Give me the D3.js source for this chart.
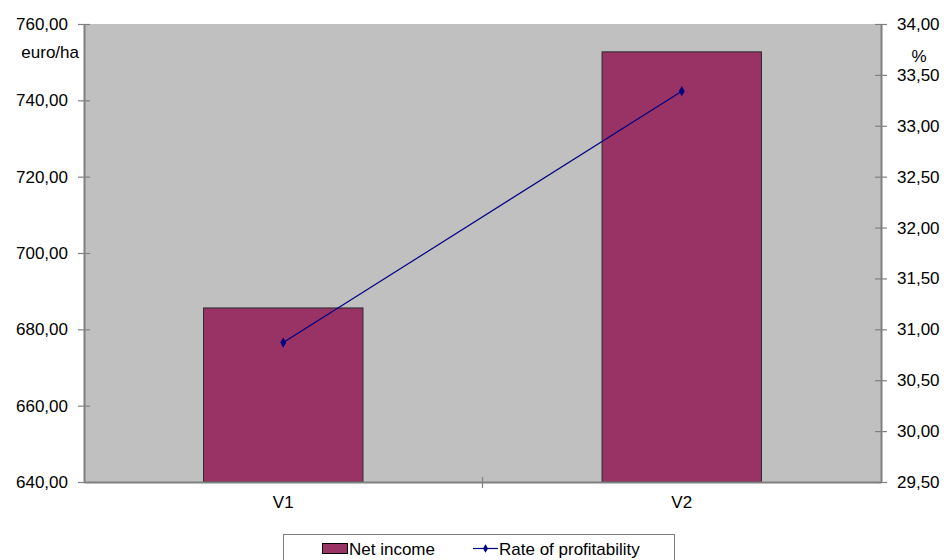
<!DOCTYPE html>
<html><head><meta charset="utf-8">
<script src="https://cdn.jsdelivr.net/npm/d3@7"></script>
<style>body{margin:0;background:#fff}svg{display:block}text{font-family:"Liberation Sans",Arial,sans-serif;fill:#000}</style>
</head><body><svg id="c" width="944" height="560"></svg>
<script>
const categories = ["V1", "V2"];
const netIncome = [685.6, 752.7];
const profitability = [30.87, 33.34];
const leftTicks = [640, 660, 680, 700, 720, 740, 760];
const rightTicks = [29.5, 30, 30.5, 31, 31.5, 32, 32.5, 33, 33.5, 34];
const seriesNames = ["Net income", "Rate of profitability"];

const FS = 17;
const svg = d3.select("#c");
const m = {l: 84, r: 881, t: 24, b: 482};
const fmt = v => d3.format(".2f")(v).replace(".", ",");

const x = d3.scaleBand().domain(categories).range([m.l, m.r]).paddingInner(0).paddingOuter(0);
const yL = d3.scaleLinear().domain([640, 760]).range([m.b, m.t]);
const yR = d3.scaleLinear().domain([29.5, 34]).range([m.b, m.t]);

svg.append("rect").attr("x", m.l).attr("y", m.t).attr("width", m.r - m.l).attr("height", m.b - m.t)
  .attr("fill", "#c0c0c0");

const bw = x.bandwidth() * 0.4;
svg.selectAll("rect.bar").data(categories).enter().append("rect").attr("class", "bar")
  .attr("x", d => x(d) + (x.bandwidth() - bw) / 2)
  .attr("y", (d, i) => yL(netIncome[i]))
  .attr("width", bw)
  .attr("height", (d, i) => m.b - yL(netIncome[i]))
  .attr("fill", "#993366").attr("stroke", "#2a2a2a").attr("stroke-width", 1);

// axes
const axL = svg.append("g").attr("transform", `translate(${m.l},0)`)
  .call(d3.axisLeft(yL).tickValues(leftTicks).tickFormat(fmt).tickSizeInner(6).tickSizeOuter(0).tickPadding(10));
axL.selectAll(".tick line").attr("x2", -6).attr("x1", 6);
const axR = svg.append("g").attr("transform", `translate(${m.r},0)`)
  .call(d3.axisRight(yR).tickValues(rightTicks).tickFormat(fmt).tickSizeInner(6).tickSizeOuter(0).tickPadding(10));
axR.selectAll(".tick line").attr("x1", -6).attr("x2", 6);
const axB = svg.append("g").attr("transform", `translate(0,${m.b})`)
  .call(d3.axisBottom(x).tickSize(0).tickPadding(14));
const bounds = [m.l, x("V2"), m.r];
axB.selectAll("line.bt").data(bounds.slice(1, 2)).enter().append("line").attr("class", "bt")
  .attr("x1", d => d).attr("x2", d => d).attr("y1", -5).attr("y2", 6);

[axL, axR, axB].forEach(a => {
  a.attr("font-size", FS).attr("font-family", "Liberation Sans, Arial, sans-serif");
  a.select(".domain").attr("stroke", "#808080").attr("stroke-width", 2);
  a.selectAll("line").attr("stroke", "#808080").attr("stroke-width", 1.2);
  a.selectAll("text").attr("font-size", FS).attr("fill", "#000");
});

// line
const pts = categories.map((c, i) => [x(c) + x.bandwidth() / 2, yR(profitability[i])]);
svg.append("path").attr("d", d3.line()(pts)).attr("fill", "none").attr("stroke", "#000080").attr("stroke-width", 1.2);
svg.selectAll("path.mk").data(pts).enter().append("path").attr("class", "mk")
  .attr("d", d3.symbol(d3.symbolDiamond, 30)).attr("transform", d => `translate(${d[0]},${d[1]})`).attr("fill", "#000080");

// unit labels
svg.append("text").attr("x", 79).attr("y", 58).attr("text-anchor", "end").attr("font-size", FS).text("euro/ha");
svg.append("text").attr("x", 919).attr("y", 62).attr("text-anchor", "middle").attr("font-size", FS).text("%");

// legend
svg.append("rect").attr("x", 283.5).attr("y", 534.5).attr("width", 391).attr("height", 40)
  .attr("fill", "#fff").attr("stroke", "#808080").attr("stroke-width", 1);
svg.append("rect").attr("x", 322.5).attr("y", 543.5).attr("width", 25).attr("height", 10)
  .attr("fill", "#993366").attr("stroke", "#000").attr("stroke-width", 1);
svg.append("text").attr("x", 349).attr("y", 555).attr("font-size", FS).text(seriesNames[0]);
svg.append("line").attr("x1", 473).attr("x2", 498).attr("y1", 548.5).attr("y2", 548.5).attr("stroke", "#000080").attr("stroke-width", 1.2);
svg.append("path").attr("d", d3.symbol(d3.symbolDiamond, 22)).attr("transform", "translate(485.5,548.5)").attr("fill", "#000080");
svg.append("text").attr("x", 499).attr("y", 555).attr("font-size", FS).text(seriesNames[1]);
</script></body></html>
